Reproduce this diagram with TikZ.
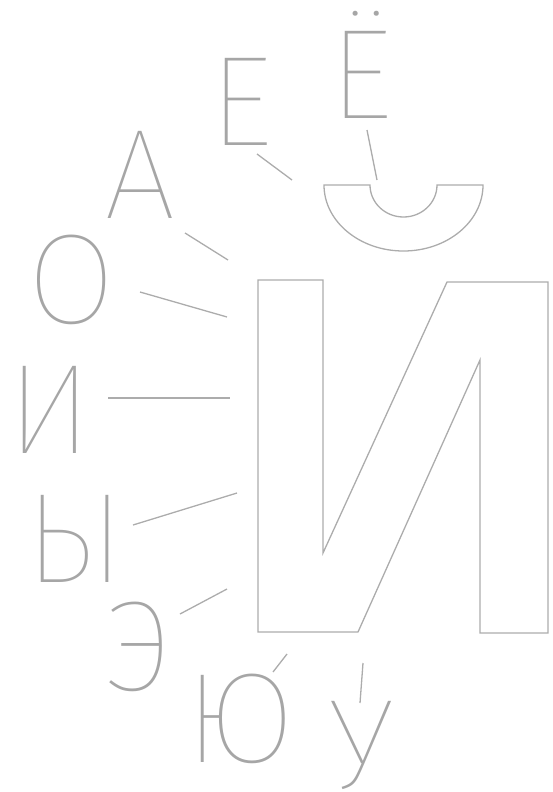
\documentclass[tikz,border=0pt]{standalone}
\usepackage{fontspec}
\newfontfamily\letterfont{Fira Sans}[UprightFont=* Thin]
\begin{document}
\begin{tikzpicture}[x=1pt,y=-1pt,
  letter/.style={anchor=base,inner sep=0pt,text=gray!70,font=\letterfont\fontsize{128}{128}\selectfont},
  stroke/.style={draw=gray!65,line width=1.3pt,line join=miter}]
\useasboundingbox (0,0) rectangle (553,792);
\draw[stroke] (258,280) -- (323,280) -- (323,553) -- (447,282) -- (548,282) -- (548,633)
  -- (480,633) -- (480,360) -- (358,632) -- (258,632) -- cycle;
\draw[stroke] (370,185) -- (324,185) arc (180:0:79.5 and 66) -- (437,185) arc (0:180:33.5 and 32) -- cycle;
\node[letter] (ye) at (241,145) {Е};
\node[letter] (yo) at (361,118) {Ё};
\node[letter] (a) at (140,218) {А};
\node[letter] (o) at (72,323) {О};
\node[letter] (i) at (50,453) {И};
\node[letter] (yery) at (75,582) {Ы};
\node[letter] (e) at (139,690) {Э};
\node[letter] (yu) at (240,762) {Ю};
\node[letter] (u) at (361,788) {У};
\coordinate (ye1) at (257,154); \coordinate (ye2) at (292,180);
\coordinate (yo1) at (367,130); \coordinate (yo2) at (377,180);
\coordinate (a1) at (185,233); \coordinate (a2) at (228,260);
\coordinate (o1) at (140,292); \coordinate (o2) at (227,317);
\coordinate (i1) at (108,398); \coordinate (i2) at (230,398);
\coordinate (yery1) at (133,525); \coordinate (yery2) at (237,493);
\coordinate (e1) at (180,614); \coordinate (e2) at (227,589);
\coordinate (yu1) at (273,672); \coordinate (yu2) at (287,654);
\coordinate (u1) at (360,703); \coordinate (u2) at (363,663);
\draw[stroke] (ye1) -- (ye2);
\draw[stroke] (yo1) -- (yo2);
\draw[stroke] (a1) -- (a2);
\draw[stroke] (o1) -- (o2);
\draw[stroke] (i1) -- (i2);
\draw[stroke] (yery1) -- (yery2);
\draw[stroke] (e1) -- (e2);
\draw[stroke] (yu1) -- (yu2);
\draw[stroke] (u1) -- (u2);
\end{tikzpicture}
\end{document}
